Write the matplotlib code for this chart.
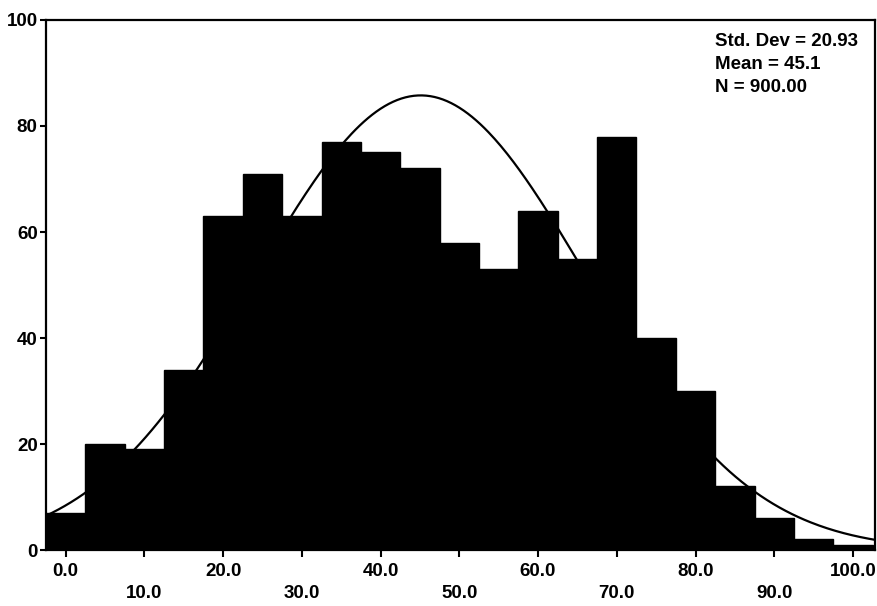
import numpy as np
import matplotlib.pyplot as plt

plt.rcParams["font.family"] = ["Liberation Sans", "DejaVu Sans"]

# ---------------------------------------------------------------------------
# Data (bins of width 5, centred on 0, 5, ..., 100)
# ---------------------------------------------------------------------------
bin_centers = [0, 5, 10, 15, 20, 25, 30, 35, 40, 45, 50,
               55, 60, 65, 70, 75, 80, 85, 90, 95, 100]
counts = [7, 20, 19, 34, 63, 71, 63, 77, 75, 72, 58,
          53, 64, 55, 78, 40, 30, 12, 6, 2, 1]

bin_width = 5
std_dev = 20.93
mean = 45.1
n_total = 900

major_ticks = [0, 20, 40, 60, 80, 100]
minor_ticks = [10, 30, 50, 70, 90]
y_ticks = [0, 20, 40, 60, 80, 100]


def normal_counts(x, mu, sd, n, width):
    """Expected bin counts of a normal fit, as drawn by SPSS."""
    pdf = np.exp(-0.5 * ((x - mu) / sd) ** 2) / (sd * np.sqrt(2 * np.pi))
    return n * width * pdf


fig = plt.figure(figsize=(8.78, 6.06), dpi=100)
ax = fig.add_axes([0.0524, 0.0924, 0.9442, 0.8746])

# edge in the same colour so no seams show between neighbouring bars
ax.bar(bin_centers, counts, width=bin_width, color="black",
       edgecolor="black", linewidth=1.0)

xs = np.linspace(-2.5, 102.8, 400)
ax.plot(xs, normal_counts(xs, mean, std_dev, n_total, bin_width),
        color="black", linewidth=1.6)

ax.set_xlim(-2.5, 102.8)
ax.set_ylim(0, 100)

tick_font = dict(fontsize=13.5, fontweight="bold")

# staggered x labels: even decades on the first row, odd ones lower down
ax.set_xticks(major_ticks)
ax.set_xticklabels([f"{v:.1f}" for v in major_ticks], **tick_font)
ax.set_xticks(minor_ticks, minor=True)
ax.set_xticklabels([f"{v:.1f}" for v in minor_ticks], minor=True, **tick_font)
ax.tick_params(axis="x", which="major", length=5, width=1.5, pad=4)
ax.tick_params(axis="x", which="minor", length=5, width=1.5, pad=20)

ax.set_yticks(y_ticks)
ax.set_yticklabels([str(v) for v in y_ticks], **tick_font)
ax.tick_params(axis="y", length=4, width=1.5, pad=2)

for side in ax.spines.values():
    side.set_linewidth(1.6)

ax.text(0.807, 0.975,
        f"Std. Dev = {std_dev:.2f}\nMean = {mean:.1f}\nN = {n_total:.2f}",
        transform=ax.transAxes, ha="left", va="top",
        fontsize=13.5, fontweight="bold", linespacing=1.45)

fig.savefig("out.png", dpi=100)
